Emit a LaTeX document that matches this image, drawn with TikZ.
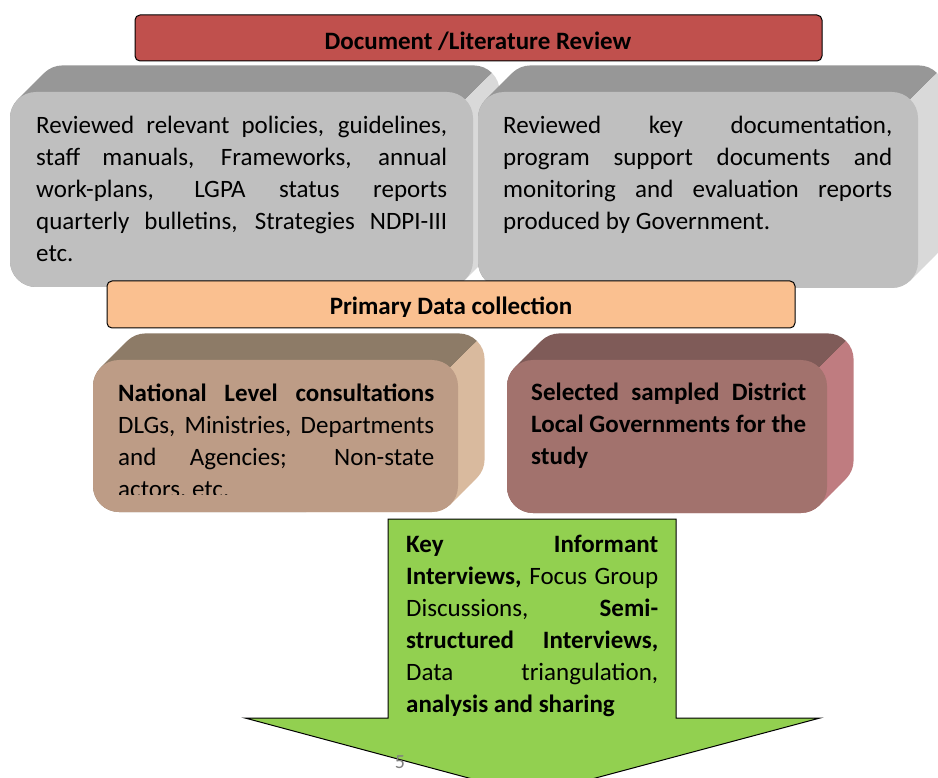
\documentclass[tikz,border=0pt]{standalone}
\usepackage{fontspec}
\setmainfont{Carlito}
\usetikzlibrary{positioning}
\hyphenpenalty=10000
\tolerance=9999
\definecolor{HeadRed}{HTML}{C0504D}
\definecolor{HeadPeach}{HTML}{FAC090}
\definecolor{GreyFront}{HTML}{BFBFBF}
\definecolor{GreyTop}{HTML}{979797}
\definecolor{GreySide}{HTML}{D9D9D9}
\definecolor{TanFront}{HTML}{BD9C86}
\definecolor{TanTop}{HTML}{8D7B67}
\definecolor{TanSide}{HTML}{D9BA9E}
\definecolor{RoseFront}{HTML}{A2726D}
\definecolor{RoseTop}{HTML}{7F5B58}
\definecolor{RoseSide}{HTML}{BF7C80}
\definecolor{LeafGreen}{HTML}{92D050}
\tikzset{
  headbar/.style={draw=black, line width=1pt, rounded corners=5pt},
  headtext/.style={anchor=base, inner sep=0pt, font=\fontsize{25}{30}\selectfont\bfseries},
  bodytext/.style={anchor=north west, inner sep=0pt, align=justify, font=\fontsize{25}{32}\selectfont},
  pagenum/.style={inner sep=0pt, text=black!50, font=\fontsize{20}{24}\selectfont}
}
% raised block: front face #1,#2 -- #3,#4, colours front/top/side
\newcommand{\slabbox}[7]{%
  \begin{scope}
    \clip (#3+200,#2-200) -- (#3-600,#2+600) -- (#3-600,#2-200) -- cycle;
    \foreach \t in {0,0.05,...,1}
      \fill[#6, rounded corners=26pt] (#1+28*\t,#2-28*\t) rectangle (#3+28*\t,#4-28*\t);
  \end{scope}
  \begin{scope}
    \clip (#3+200,#2-200) -- (#3-600,#2+600) -- (#3+600,#2+600) -- cycle;
    \foreach \t in {0,0.05,...,1}
      \fill[#7, rounded corners=26pt] (#1+28*\t,#2-28*\t) rectangle (#3+28*\t,#4-28*\t);
  \end{scope}
  \fill[#5, rounded corners=26pt] (#1,#2) rectangle (#3,#4);
}

\begin{document}
\begin{tikzpicture}[x=1pt, y=-1pt]
  \useasboundingbox (0,0) rectangle (938,778);
  \clip (0,0) rectangle (938,778);

  % desk review
  \slabbox{10}{92}{473}{287}{GreyFront}{GreyTop}{GreySide}
  \slabbox{478}{92}{918}{288}{GreyFront}{GreyTop}{GreySide}
  \draw[headbar, fill=HeadRed] (135,15) rectangle (822,61);
  \node[headtext] (review) at (478,50) {Document /Literature Review};
  \node[bodytext, text width=411pt] (policies) at (36,115.5)
    {Reviewed relevant policies, guidelines,\linebreak staff manuals, Frameworks, annual\linebreak
     work-plans, LGPA status reports\linebreak quarterly bulletins, Strategies NDPI-III\linebreak etc.};
  \node[bodytext, text width=389pt] (reports) at (503,115.5)
    {Reviewed key documentation,\linebreak program support documents and\linebreak
     monitoring and evaluation reports\linebreak produced by Government.};

  % field work
  \draw[headbar, fill=HeadPeach] (107,281) rectangle (795,328);
  \begin{scope}
    \clip (107,281) rectangle (795,317);
    \node[headtext] (primary) at (451,315) {Primary Data collection};
  \end{scope}

  \slabbox{93}{360}{458}{512}{TanFront}{TanTop}{TanSide}
  \slabbox{507}{360}{827}{513}{RoseFront}{RoseTop}{RoseSide}
  \begin{scope}
    \clip (93,360) rectangle (458,494.5);
    \node[bodytext, text width=316pt] (national) at (118,383.5)
      {\textbf{National Level consultations}\linebreak DLGs, Ministries, Departments\linebreak
       and Agencies; Non-state\linebreak actors, etc.};
  \end{scope}
  \node[bodytext, text width=275pt, font=\fontsize{25}{32}\selectfont\bfseries] (district) at (531,382.5)
    {Selected sampled District\linebreak Local Governments for the\linebreak study};

  % methods arrow
  \draw[line width=1pt, fill=LeafGreen] (388,519) -- (676,519) -- (676,718) -- (820,718)
    -- (532,795) -- (245,718) -- (388,718) -- cycle;
  \node[bodytext, text width=252pt] (methods) at (406,534.5)
    {\textbf{Key Informant}\linebreak \textbf{Interviews,} Focus Group\linebreak
     Discussions, \textbf{Semi-}\linebreak \textbf{structured Interviews,}\linebreak
     Data triangulation,\linebreak \textbf{analysis and sharing}};

  \node[pagenum] (page) at (400,762) {5};
\end{tikzpicture}
\end{document}
